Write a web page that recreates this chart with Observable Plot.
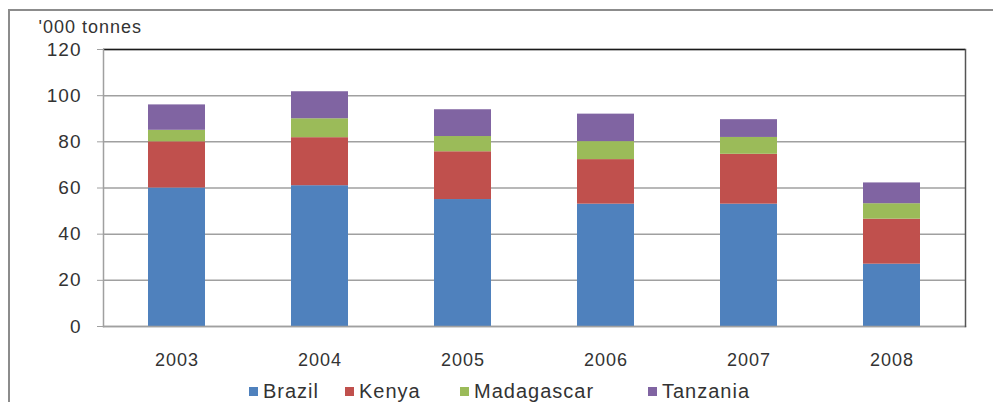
<!DOCTYPE html>
<html>
<head>
<meta charset="utf-8">
<script src="https://cdn.jsdelivr.net/npm/d3@7"></script>
<script src="https://cdn.jsdelivr.net/npm/@observablehq/plot@0.6"></script>
<style>
  html, body { margin: 0; padding: 0; background: #fff; }
  #wrap { position: relative; width: 993px; height: 402px; overflow: hidden; font-family: "Liberation Sans", Arial, sans-serif; color: #333; }
  #frame { position: absolute; left: 8px; top: 9px; width: 1200px; height: 600px; border-left: 2px solid #8c8c8c; border-top: 2px solid #8c8c8c; pointer-events: none; }
  #chart { position: absolute; left: 0; top: 0; }
  #legend { position: absolute; left: 0; top: 380px; width: 993px; height: 22px; font-size: 20px; letter-spacing: 1px; }
  .item { position: absolute; top: 0; display: flex; align-items: center; height: 22px; white-space: nowrap; }
  .sw { width: 9px; height: 9px; margin-right: 5px; display: inline-block; }
</style>
</head>
<body>
<div id="wrap">
  <div id="chart"></div>
  <div id="frame"></div>
  <div id="legend"></div>
</div>
<script>
const years = ["2003", "2004", "2005", "2006", "2007", "2008"];
const series = ["Brazil", "Kenya", "Madagascar", "Tanzania"];
const brazil = [60, 61, 55, 53, 53, 27];
const kenya = [20, 20.8, 20.7, 19.3, 21.6, 19.5];
const madagascar = [5, 8.2, 6.6, 7.8, 7.3, 6.7];
const tanzania = [11, 11.7, 11.6, 11.9, 7.7, 9];
const yTicks = [0, 20, 40, 60, 80, 100, 120];
const colors = ["#4F81BD", "#C0504D", "#9BBB59", "#8064A2"];
const yLabel = "'000 tonnes";

const valuesBySeries = [brazil, kenya, madagascar, tanzania];
const data = years.flatMap((year, i) =>
  series.map((country, j) => ({year, country, value: valuesBySeries[j][i]}))
);

const grid = "#a0a0a0";
const plot = Plot.plot({
  width: 993,
  height: 375,
  marginLeft: 103,
  marginRight: 28,
  marginTop: 49,
  marginBottom: 49,
  style: {fontFamily: "'Liberation Sans', Arial, sans-serif", fontSize: "18px", color: "#333", background: "transparent", letterSpacing: "1px"},
  x: {domain: years, paddingInner: 0.6, paddingOuter: 0.3, label: null},
  y: {domain: [0, 120], label: null},
  color: {domain: series, range: colors},
  marks: [
    Plot.gridY(yTicks, {stroke: grid, strokeOpacity: 1, strokeWidth: 1.5}),
    Plot.barY(data, {x: "year", y: "value", fill: "country", order: series}),
    Plot.ruleY([120], {stroke: "#1a1a1a", strokeWidth: 1.5}),
    Plot.frame({anchor: "left", stroke: grid, strokeWidth: 1.5}),
    Plot.frame({anchor: "bottom", stroke: grid, strokeWidth: 1.5}),
    Plot.frame({anchor: "right", stroke: "#555", strokeWidth: 1.5}),
    Plot.axisY(yTicks, {tickSize: 6, tickPadding: 16, stroke: grid, label: null, fontSize: 19, style: {letterSpacing: "1.4px"}}),
    Plot.axisX({tickSize: 0, tickPadding: 27, label: null, fontSize: 18}),
    Plot.text([yLabel], {frameAnchor: "top-left", dx: -65, dy: -22, textAnchor: "start", lineAnchor: "middle", fontSize: 18, style: {letterSpacing: "1.6px"}})
  ]
});
document.getElementById("chart").appendChild(plot);

const legendLeft = [249, 345, 460, 648];
const legend = document.getElementById("legend");
series.forEach((s, i) => {
  const item = document.createElement("div");
  item.className = "item";
  item.style.left = legendLeft[i] + "px";
  const sw = document.createElement("span");
  sw.className = "sw";
  sw.style.background = colors[i];
  item.appendChild(sw);
  item.appendChild(document.createTextNode(s));
  legend.appendChild(item);
});
</script>
</body>
</html>
